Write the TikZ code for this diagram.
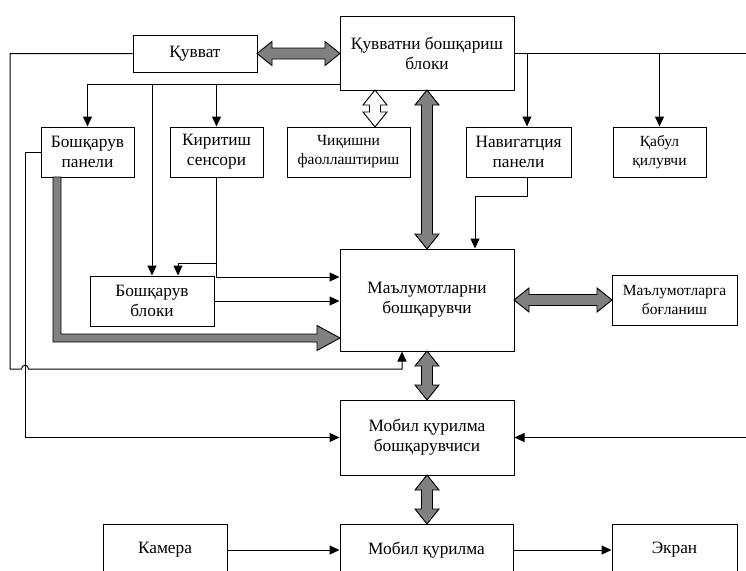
\documentclass[tikz,border=0pt]{standalone}
\usepackage{fontspec}
\setmainfont{Liberation Serif}
\usetikzlibrary{arrows.meta,calc}
\definecolor{agray}{RGB}{128,128,128}
\newcommand\dblH[3]{%
  \filldraw[fill=agray,draw=black,line width=0.9pt,line join=miter]
  (#1,#3) -- (#1+15,#3-12) -- (#1+15,#3-5.5) -- (#2-15,#3-5.5) -- (#2-15,#3-12) -- (#2,#3)
  -- (#2-15,#3+12) -- (#2-15,#3+5.5) -- (#1+15,#3+5.5) -- (#1+15,#3+12) -- cycle;}
\newcommand\dblV[4]{%
  \filldraw[fill=#4,draw=black,line width=0.9pt,line join=miter]
  (#1,#2) -- (#1+12,#2+15) -- (#1+5.5,#2+15) -- (#1+5.5,#3-15) -- (#1+12,#3-15) -- (#1,#3)
  -- (#1-12,#3-15) -- (#1-5.5,#3-15) -- (#1-5.5,#2+15) -- (#1-12,#2+15) -- cycle;}
\begin{document}
\begin{tikzpicture}[x=1pt,y=-1pt,
  box/.style={draw, line width=1pt, inner sep=0pt, align=center, fill=white,
    font=\fontsize{17.3}{20}\selectfont},
  sbox/.style={box, font=\fontsize{15.5}{19}\selectfont},
  conn/.style={line width=1pt, -{Triangle[length=10pt,width=9pt]}},
  line/.style={line width=1pt}]
\useasboundingbox (0,0) rectangle (746,570);
\clip (0,0) rectangle (746,570);
% nodes
\node[box, minimum width=124pt, minimum height=37pt] (kuv) at (195,53.5) {Қувват};
\node[box, minimum width=174pt, minimum height=74pt] (kbb) at (427,53) {Қувватни бошқариш\\блоки};
\node[box, minimum width=93pt, minimum height=50pt] (bp) at (87.5,152) {Бошқарув\\панели};
\node[box, minimum width=93pt, minimum height=50pt] (ks) at (216.5,152) {Киритиш\\сенсори};
\node[sbox, minimum width=123pt, minimum height=50pt] (chf) at (348.5,152) {Чиқишни\\фаоллаштириш};
\node[box, minimum width=105pt, minimum height=50pt] (nav) at (518.5,152) {Навигатция\\панели};
\node[sbox, minimum width=93pt, minimum height=50pt] (kq) at (659.5,152) {Қабул\\қилувчи};
\node[box, minimum width=124pt, minimum height=50pt] (bb) at (152,301) {Бошқарув\\блоки};
\node[box, minimum width=174pt, minimum height=102pt] (mb) at (427,300) {Маълумотларни\\бошқарувчи};
\node[sbox, minimum width=125pt, minimum height=50pt] (mg) at (674.5,300) {Маълумотларга\\боғланиш};
\node[box, minimum width=174pt, minimum height=75pt] (mkb) at (427,437.5) {Мобил қурилма\\бошқарувчиси};
\node[box, minimum width=124pt, minimum height=52pt] (kam) at (165,550) {Камера};
\node[box, minimum width=173pt, minimum height=52pt] (mq) at (426.5,550) {Мобил қурилма};
\node[box, minimum width=125pt, minimum height=52pt] (ekr) at (674.5,550) {Экран};
% thin connectors
\coordinate (L) at (340,84);
\coordinate (h1) at (402,369);
\coordinate (kb) at (217,263);
\coordinate (nb) at (527,196);
\coordinate (na) at ($(nav.north)+(8.5,0)$);
\coordinate (ns) at ($(nav.south)+(8.5,0)$);
\coordinate (mn) at ($(mb.north)+(48,0)$);
\coordinate (mw) at ($(mb.west)+(0,-23)$);
\coordinate (bn) at ($(bb.north)+(26,0)$);
\draw[conn] (kuv.west) -- (10,53.5) -- (10,369) -- (21.5,369)
  .. controls (21.5,364) and (28.5,364) .. (28.5,369) -- (h1) -- (h1 |- mb.south);
\draw[conn] (bp.west) -- (25,152) |- (mkb.west);
\draw[conn] (L) -| (bp.north);
\draw[conn] (bb.north |- L) -- (bb.north);
\draw[conn] (ks.north |- L) -- (ks.north);
\draw[line] (kbb.east) -- (746,53);
\draw[conn] (na |- kbb.east) -- (na);
\draw[conn] (kq.north |- kbb.east) -- (kq.north);
\draw[conn] (ns) |- (nb) -| (mn);
\draw[conn] (ks.south) |- (mw);
\draw[conn] (kb) -| (bn);
\draw[conn] (bb.east) -- (bb.east -| mb.west);
\draw[conn] (746,437.5) -- (mkb.east);
\draw[conn] (kam.east) -- (mq.west);
\draw[conn] (mq.east) -- (ekr.west);
% thick arrow
\filldraw[fill=agray,draw=black,line width=0.9pt,line join=miter]
  (53,177) -- (53,342) -- (317,342) -- (317,350.5) -- (340,338) -- (317,325.5)
  -- (317,334) -- (61,334) -- (61,177) -- cycle;
% block double arrows
\dblH{257}{340}{53.5}
\dblH{514}{612}{300}
\dblV{427}{90}{249}{agray}
\dblV{427}{351}{400}{agray}
\dblV{427}{475}{524}{agray}
\dblV{375}{90}{127}{white}
\end{tikzpicture}
\end{document}
